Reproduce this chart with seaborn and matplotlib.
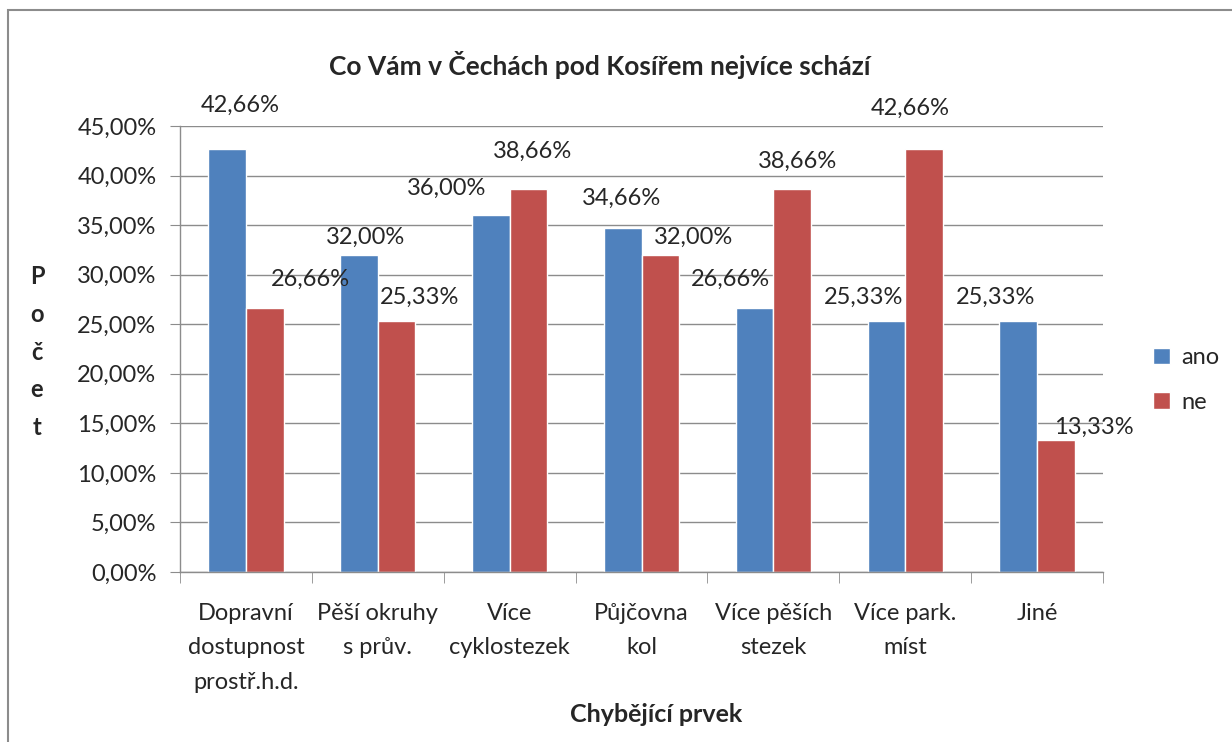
import pandas as pd
import seaborn as sns
import matplotlib.pyplot as plt
from matplotlib.patches import Rectangle
from matplotlib.ticker import FuncFormatter, FixedLocator

# data
kategorie = ['Dopravní\ndostupnost\nprostř.h.d.', 'Pěší okruhy\ns prův.', 'Více\ncyklostezek',
             'Půjčovna\nkol', 'Více pěších\nstezek', 'Více park.\nmíst', 'Jiné']
ano = [42.66, 32.00, 36.00, 34.66, 26.66, 25.33, 25.33]
ne = [26.66, 25.33, 38.66, 32.00, 38.66, 42.66, 13.33]
serie = ['ano', 'ne']

# posuny popisků (pixely) - Excel je rozhází kolem sloupců
posun_ano = [(13, 44), (7, 18), (-44, 27), (-1, 30), (-24, 28), (-23, 24), (-23, 24)]
posun_ne = [(46, 28), (23, 24), (4, 37), (33, 18), (5, 27), (-14, 41), (38, 13)]

df = pd.DataFrame({
    'prvek': kategorie * 2,
    'serie': ['ano'] * len(ano) + ['ne'] * len(ne),
    'hodnota': ano + ne,
})

sns.set_style('white')
plt.rcParams['font.family'] = ['Lato', 'DejaVu Sans']

fig = plt.figure(figsize=(12.32, 7.42), dpi=100)
ax = fig.add_axes([180 / 1232, 1 - 572 / 742, (1103 - 180) / 1232, (572 - 126) / 742])

sns.barplot(data=df, x='prvek', y='hodnota', hue='serie', order=kategorie, hue_order=serie,
            palette={'ano': '#4F81BD', 'ne': '#C0504D'}, width=0.57, saturation=1,
            ax=ax, legend=True)

ax.set_ylim(0, 45)
ax.set_xlim(-0.5, len(kategorie) - 0.5)
ax.set_yticks(range(0, 46, 5))
ax.yaxis.set_major_formatter(FuncFormatter(lambda v, p: f'{v:.2f}'.replace('.', ',') + '%'))
ax.grid(axis='y', color='#8c8c8c', linewidth=1)
ax.set_axisbelow(True)
for s in ['top', 'right']:
    ax.spines[s].set_visible(False)
for s in ['left', 'bottom']:
    ax.spines[s].set_color('#8c8c8c')
    ax.spines[s].set_linewidth(1)

ax.tick_params(axis='y', length=7, color='#8c8c8c', labelsize=17, pad=10, left=True)
ax.tick_params(axis='x', which='major', length=0, labelsize=17, pad=22)
ax.xaxis.set_minor_locator(FixedLocator([i - 0.5 for i in range(len(kategorie) + 1)]))
ax.tick_params(axis='x', which='minor', length=8, color='#8c8c8c', bottom=True)
for t in ax.get_xticklabels():
    t.set_linespacing(1.8)
ax.set_xlabel('')
ax.set_ylabel('')

# popisky hodnot
for cont, posuny in zip(ax.containers, [posun_ano, posun_ne]):
    for bar, (dx, dy) in zip(cont, posuny):
        v = bar.get_height()
        ax.annotate(f'{v:.2f}'.replace('.', ',') + '%',
                    (bar.get_x() + bar.get_width() / 2, v),
                    xytext=(dx, dy), textcoords='offset pixels',
                    ha='center', va='center', fontsize=17, annotation_clip=False)

ax.legend(frameon=False, loc='center left', bbox_to_anchor=(1132 / 1232, 1 - 380 / 742),
          bbox_transform=fig.transFigure, fontsize=17, handlelength=0.7, handleheight=0.7,
          handletextpad=0.5, labelspacing=1.0)

fig.text(600 / 1232, 1 - 65 / 742, 'Co Vám v Čechách pod Kosířem nejvíce schází',
         ha='center', va='center', fontsize=19, fontweight='bold')
fig.text(656 / 1232, 1 - 715 / 742, 'Chybějící prvek',
         ha='center', va='center', fontsize=18, fontweight='bold')
fig.text(37 / 1232, 1 - 352 / 742, 'P\no\nč\ne\nt', ha='center', va='center',
         fontsize=17, fontweight='bold', linespacing=1.77)

# rámeček grafu
fig.patches.append(Rectangle((8 / 1232, -0.1), 1.2, 1.1 - 10 / 742, transform=fig.transFigure,
                             fill=False, edgecolor='#8c8c8c', linewidth=1.5))

fig.savefig('out.png', dpi=100)
